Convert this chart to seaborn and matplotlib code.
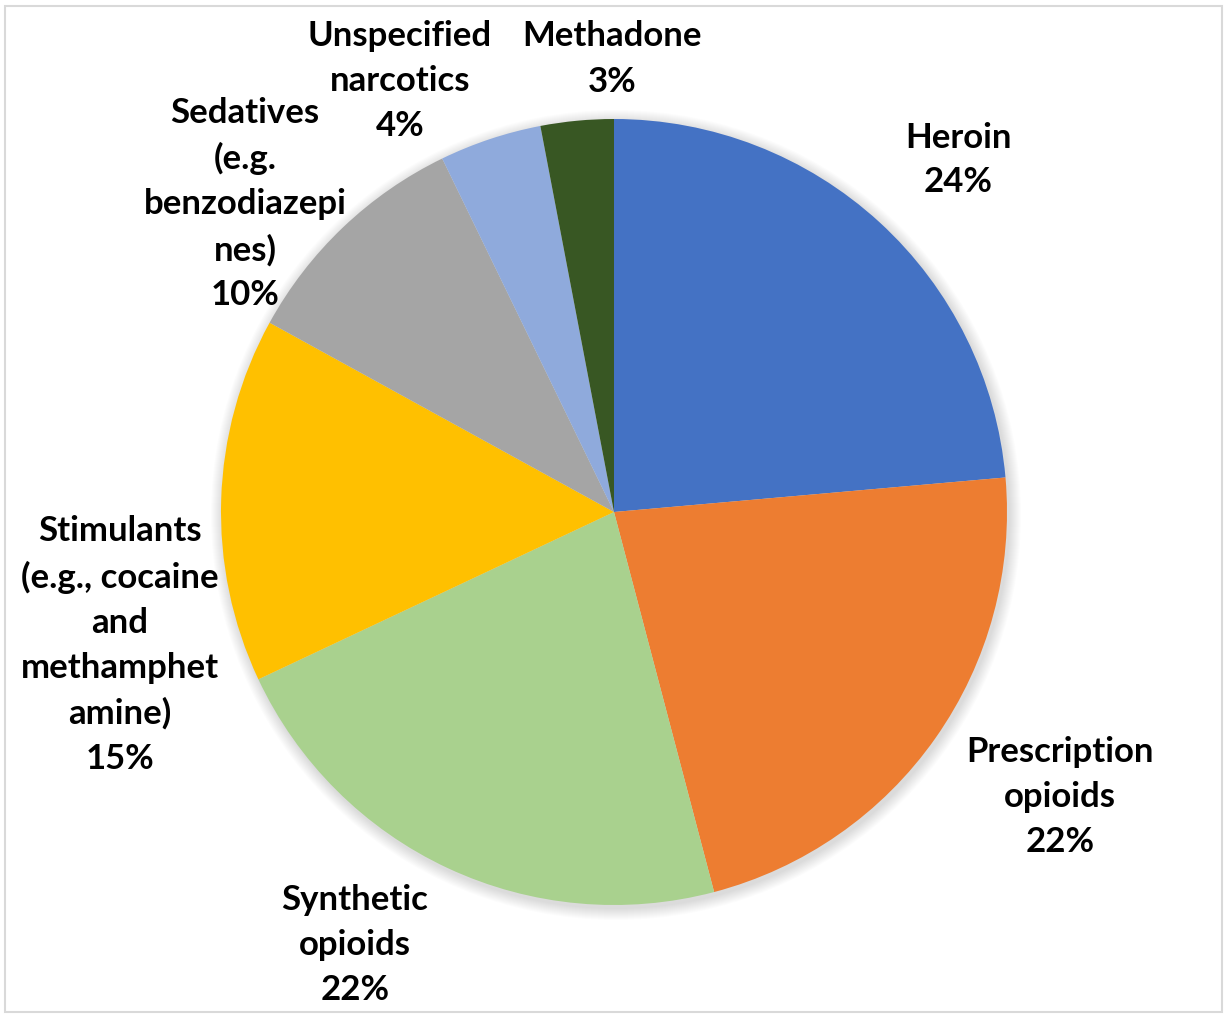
import matplotlib
matplotlib.use("Agg")
import matplotlib.pyplot as plt
import seaborn as sns
from matplotlib.patches import Rectangle, Circle

# ---- data ----
categories = ["Heroin", "Prescription\nopioids", "Synthetic\nopioids",
              "Stimulants\n(e.g., cocaine\nand\nmethamphet\namine)",
              "Sedatives\n(e.g.\nbenzodiazepi\nnes)",
              "Unspecified\nnarcotics", "Methadone"]
shares = [23.6, 22.3, 22.1, 15.0, 9.8, 4.2, 3.0]
colors = ["#4472C4", "#ED7D31", "#A9D18E", "#FFC000", "#A5A5A5", "#8FAADC", "#385723"]

# ---- layout (pixel space) ----
W, H = 1230, 1017
center = (614, H - 512)
radius = 393
label_pos = [(958, 160), (1060, 797), (355, 945), (120, 645),
             (245, 204), (400, 81), (612, 59)]

sns.set_theme(style="white")
plt.rcParams["font.family"] = ["Lato", "DejaVu Sans"]

fig = plt.figure(figsize=(W / 100, H / 100), dpi=100)
ax = fig.add_axes([0, 0, 1, 1])

# soft shadow halo
for k in range(12, 0, -1):
    ax.add_patch(Circle((center[0] + 2, center[1] - 3), radius + k,
                        color="black", alpha=0.012, lw=0, zorder=0))

wedges, _ = ax.pie(shares, colors=colors, startangle=90, counterclock=False,
                   center=center, radius=radius,
                   wedgeprops=dict(linewidth=0, edgecolor="none"),
                   frame=True)
ax.set_xlim(0, W)
ax.set_ylim(0, H)
ax.set_aspect("equal")
ax.axis("off")

for name, val, (px, py) in zip(categories, shares, label_pos):
    ax.text(px, H - py, f"{name}\n{val:.0f}%", ha="center", va="center",
            fontsize=25, fontweight="bold", color="black", linespacing=1.5)

fig.add_artist(Rectangle((5 / W, 1 - 1012 / H), 1217 / W, 1006 / H,
                         transform=fig.transFigure, fill=False,
                         edgecolor="#d9d9d9", lw=1.5))

fig.savefig("out.png", dpi=100, facecolor="white")
